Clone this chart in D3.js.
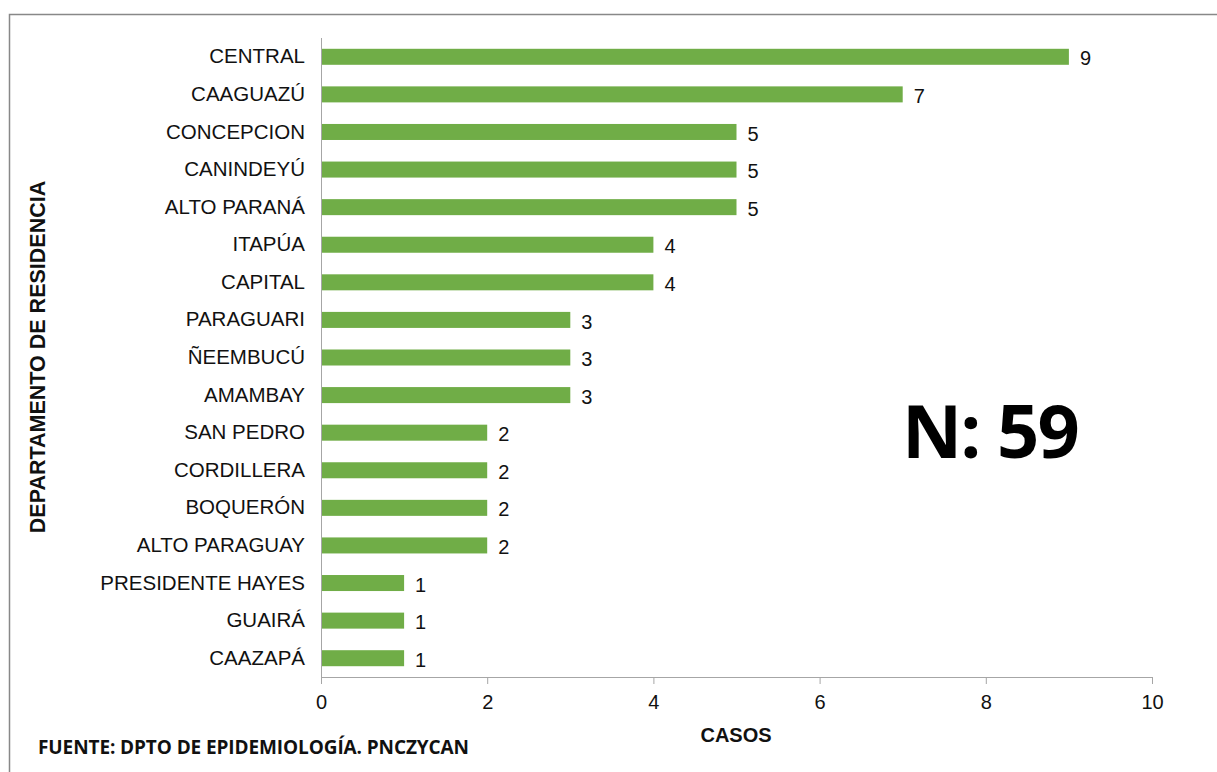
<!DOCTYPE html>
<html>
<head>
<meta charset="utf-8">
<script src="https://cdn.jsdelivr.net/npm/d3@7"></script>
<style>
  body { margin: 0; background: #fff; }
  svg { display: block; }
</style>
</head>
<body>
<script>
// departamentos y casos
var departamentos = ["CENTRAL","CAAGUAZÚ","CONCEPCION","CANINDEYÚ","ALTO PARANÁ","ITAPÚA","CAPITAL",
  "PARAGUARI","ÑEEMBUCÚ","AMAMBAY","SAN PEDRO","CORDILLERA","BOQUERÓN","ALTO PARAGUAY",
  "PRESIDENTE HAYES","GUAIRÁ","CAAZAPÁ"];
var casos = [9,7,5,5,5,4,4,3,3,3,2,2,2,2,1,1,1];
var xTicks = [0,2,4,6,8,10];

var W = 1217, H = 772;
var margin = {top: 38, left: 321, right: 65, bottom: 95};
var width = 1152 - margin.left,
    height = 677 - margin.top;

var svg = d3.select("body").append("svg")
  .attr("width", W)
  .attr("height", H);

// marco
svg.append("path")
  .attr("d", "M9.5," + H + "V14.5H" + W)
  .attr("fill", "none")
  .attr("stroke", "#888")
  .attr("stroke-width", 1.5);

var g = svg.append("g")
  .attr("transform", "translate(" + margin.left + "," + margin.top + ")");

var x = d3.scaleLinear().domain([0, 10]).range([0, width]);
var y = d3.scaleBand().domain(departamentos).range([0, height]).paddingInner(0.574).paddingOuter(0.287);

var data = departamentos.map(function(d, i) { return {dep: d, n: casos[i]}; });

var fontA = "Liberation Sans, Arial, sans-serif";

// eje x
var xAxis = g.append("g")
  .attr("transform", "translate(0," + height + ")")
  .call(d3.axisBottom(x).tickValues(xTicks).tickSize(7).tickPadding(11));
xAxis.select(".domain").attr("stroke", "#a6a6a6");
xAxis.selectAll(".tick line").attr("stroke", "#a6a6a6");
xAxis.selectAll(".tick text")
  .attr("font-family", fontA)
  .attr("font-size", 20)
  .attr("fill", "#111");

// eje y
var yAxis = g.append("g")
  .call(d3.axisLeft(y).tickSize(0).tickPadding(16));
yAxis.select(".domain").attr("stroke", "#a6a6a6").attr("d", "M0.5,0V" + height);
yAxis.selectAll(".tick text")
  .attr("font-family", fontA)
  .attr("font-size", 20.5)
  .attr("fill", "#111");

// barras
g.selectAll(".bar")
  .data(data)
  .enter().append("rect")
  .attr("class", "bar")
  .attr("x", 1)
  .attr("y", function(d) { return y(d.dep); })
  .attr("width", function(d) { return x(d.n) - 1; })
  .attr("height", y.bandwidth())
  .attr("fill", "#70ad47");

g.selectAll(".lbl")
  .data(data)
  .enter().append("text")
  .attr("class", "lbl")
  .attr("x", function(d) { return x(d.n) + 11; })
  .attr("y", function(d) { return y(d.dep) + y.bandwidth() / 2 + 1; })
  .attr("dy", "0.38em")
  .attr("font-family", fontA)
  .attr("font-size", 20)
  .attr("fill", "#111")
  .text(function(d) { return d.n; });

// titulos
svg.append("text")
  .attr("x", 736)
  .attr("y", 742)
  .attr("text-anchor", "middle")
  .attr("font-family", fontA)
  .attr("font-weight", "bold")
  .attr("font-size", 20)
  .attr("fill", "#111")
  .text("CASOS");

svg.append("text")
  .attr("transform", "translate(45,357) rotate(-90)")
  .attr("text-anchor", "middle")
  .attr("font-family", fontA)
  .attr("font-weight", "bold")
  .attr("font-size", 21.5)
  .attr("fill", "#111")
  .text("DEPARTAMENTO DE RESIDENCIA");

svg.append("text")
  .attr("x", 38)
  .attr("y", 754)
  .attr("font-family", "Open Sans, sans-serif")
  .attr("font-weight", "bold")
  .attr("font-size", 19)
  .attr("letter-spacing", -0.1)
  .attr("fill", "#111")
  .text("FUENTE: DPTO DE EPIDEMIOLOGÍA. PNCZYCAN");

svg.append("text")
  .attr("x", 902)
  .attr("y", 458)
  .attr("font-family", "Open Sans, sans-serif")
  .attr("font-weight", "bold")
  .attr("font-size", 74)
  .attr("letter-spacing", -1.8)
  .attr("fill", "#000")
  .text("N: 59");
</script>
</body>
</html>
